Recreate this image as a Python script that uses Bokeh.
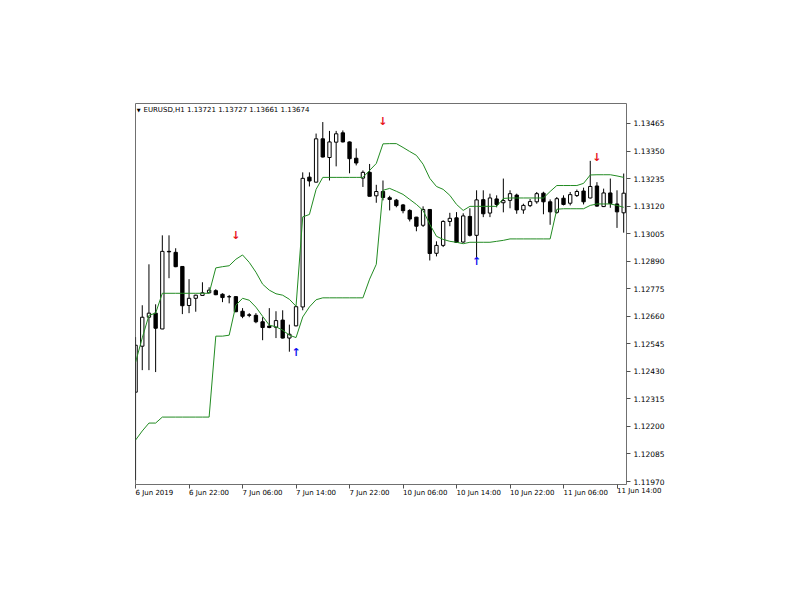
from bokeh.plotting import figure
from bokeh.models import ColumnDataSource, Range1d, FixedTicker, PrintfTickFormatter, Label, LinearAxis
from bokeh.core.properties import value
from bokeh.embed import file_html
from bokeh.resources import INLINE

# ---------------- data ----------------
title_text = "EURUSD,H1  1.13721 1.13727 1.13661 1.13674"

x_tick_bars = [0, 8, 16, 24, 32, 40, 48, 56, 64, 72]
x_tick_labels = ["6 Jun 2019", "6 Jun 22:00", "7 Jun 06:00", "7 Jun 14:00", "7 Jun 22:00",
                 "10 Jun 06:00", "10 Jun 14:00", "10 Jun 22:00", "11 Jun 06:00", "11 Jun 14:00"]
y_ticks = [1.11970, 1.12085, 1.12200, 1.12315, 1.12430, 1.12545, 1.12660,
           1.12775, 1.12890, 1.13005, 1.13120, 1.13235, 1.13350, 1.13465]

opens = [1.12343, 1.12535, 1.12656, 1.12673, 1.12607, 1.12931, 1.12927, 1.12868, 1.12705, 1.12735,
         1.12747, 1.12758, 1.12767, 1.12752, 1.12742, 1.12742, 1.12681, 1.12666, 1.12664, 1.12637,
         1.12619, 1.12614, 1.12644, 1.12569, 1.12620, 1.12699, 1.13241, 1.13220, 1.13401, 1.13323,
         1.13387, 1.13426, 1.13388, 1.13320, 1.13237, 1.13261, 1.13163, 1.13181, 1.13155, 1.13145,
         1.13125, 1.13102, 1.13074, 1.13040, 1.13106, 1.12923, 1.12956, 1.13056, 1.13071, 1.12970,
         1.13077, 1.12998, 1.13147, 1.13091, 1.13150, 1.13134, 1.13144, 1.13166, 1.13104, 1.13122,
         1.13138, 1.13174, 1.13138, 1.13094, 1.13153, 1.13132, 1.13164, 1.13183, 1.13154, 1.13204,
         1.13118, 1.13175, 1.13129, 1.13092]
highs = [1.12573, 1.12706, 1.12877, 1.12710, 1.12998, 1.12998, 1.12944, 1.12869, 1.12815, 1.12750,
         1.12802, 1.12781, 1.12773, 1.12756, 1.12749, 1.12744, 1.12694, 1.12673, 1.12673, 1.12656,
         1.12694, 1.12681, 1.12685, 1.12625, 1.12702, 1.13261, 1.13261, 1.13423, 1.13471, 1.13434,
         1.13434, 1.13436, 1.13390, 1.13361, 1.13269, 1.13296, 1.13209, 1.13227, 1.13163, 1.13150,
         1.13129, 1.13107, 1.13075, 1.13119, 1.13107, 1.12973, 1.13061, 1.13092, 1.13095, 1.13090,
         1.13111, 1.13186, 1.13186, 1.13172, 1.13165, 1.13235, 1.13186, 1.13172, 1.13130, 1.13150,
         1.13179, 1.13180, 1.13148, 1.13158, 1.13165, 1.13179, 1.13189, 1.13197, 1.13309, 1.13220,
         1.13193, 1.13235, 1.13186, 1.13256]
lows = [1.11976, 1.12435, 1.12435, 1.12427, 1.12606, 1.12819, 1.12865, 1.12669, 1.12673, 1.12679,
        1.12746, 1.12756, 1.12748, 1.12719, 1.12714, 1.12677, 1.12652, 1.12656, 1.12631, 1.12560,
        1.12610, 1.12569, 1.12567, 1.12512, 1.12618, 1.12685, 1.13202, 1.13219, 1.13323, 1.13227,
        1.13286, 1.13386, 1.13257, 1.13290, 1.13200, 1.13161, 1.13134, 1.13144, 1.13102, 1.13115,
        1.13090, 1.13056, 1.13015, 1.13033, 1.12893, 1.12910, 1.12949, 1.13036, 1.12967, 1.12967,
        1.12993, 1.12902, 1.13074, 1.13074, 1.13115, 1.13094, 1.13111, 1.13088, 1.13088, 1.13116,
        1.13130, 1.13086, 1.13042, 1.13088, 1.13123, 1.13123, 1.13158, 1.13127, 1.13152, 1.13117,
        1.13116, 1.13113, 1.13029, 1.13009]
closes = [1.12539, 1.12656, 1.12673, 1.12610, 1.12931, 1.12929, 1.12867, 1.12704, 1.12735, 1.12748,
          1.12758, 1.12769, 1.12750, 1.12738, 1.12741, 1.12679, 1.12660, 1.12664, 1.12637, 1.12613,
          1.12613, 1.12642, 1.12569, 1.12585, 1.12700, 1.13236, 1.13225, 1.13401, 1.13325, 1.13388,
          1.13422, 1.13388, 1.13318, 1.13300, 1.13261, 1.13161, 1.13181, 1.13156, 1.13148, 1.13122,
          1.13101, 1.13066, 1.13036, 1.13106, 1.12922, 1.12956, 1.13056, 1.13069, 1.12968, 1.13079,
          1.12998, 1.13146, 1.13088, 1.13154, 1.13127, 1.13143, 1.13172, 1.13104, 1.13123, 1.13139,
          1.13172, 1.13138, 1.13096, 1.13151, 1.13127, 1.13168, 1.13181, 1.13138, 1.13202, 1.13120,
          1.13175, 1.13131, 1.13096, 1.13174]

upper_band = [1.12468, 1.12570, 1.12664, 1.12673, 1.12756, 1.12756, 1.12756, 1.12756, 1.12756, 1.12756,
              1.12756, 1.12756, 1.12862, 1.12867, 1.12871, 1.12898, 1.12916, 1.12885, 1.12844, 1.12794,
              1.12769, 1.12754, 1.12748, 1.12731, 1.12702, 1.13075, 1.13085, 1.13190, 1.13240, 1.13240,
              1.13240, 1.13240, 1.13240, 1.13240, 1.13240, 1.13269, 1.13298, 1.13380, 1.13381, 1.13381,
              1.13365, 1.13348, 1.13332, 1.13295, 1.13236, 1.13202, 1.13190, 1.13165, 1.13127, 1.13102,
              1.13119, 1.13119, 1.13119, 1.13119, 1.13119, 1.13152, 1.13154, 1.13154, 1.13154, 1.13154,
              1.13154, 1.13154, 1.13181, 1.13206, 1.13206, 1.13206, 1.13206, 1.13215, 1.13250, 1.13251,
              1.13251, 1.13251, 1.13246, 1.13240]
lower_band = [1.12143, 1.12181, 1.12214, 1.12214, 1.12239, 1.12239, 1.12239, 1.12239, 1.12239, 1.12239,
              1.12239, 1.12239, 1.12577, 1.12577, 1.12581, 1.12706, 1.12735, 1.12727, 1.12698, 1.12660,
              1.12623, 1.12616, 1.12602, 1.12581, 1.12571, 1.12657, 1.12699, 1.12729, 1.12737, 1.12737,
              1.12737, 1.12737, 1.12737, 1.12737, 1.12737, 1.12815, 1.12877, 1.13186, 1.13194, 1.13182,
              1.13169, 1.13148, 1.13127, 1.13102, 1.13044, 1.12994, 1.12981, 1.12973, 1.12969, 1.12963,
              1.12969, 1.12969, 1.12969, 1.12969, 1.12973, 1.12977, 1.12983, 1.12983, 1.12983, 1.12983,
              1.12983, 1.12983, 1.12983, 1.13107, 1.13109, 1.13109, 1.13109, 1.13109, 1.13123, 1.13129,
              1.13129, 1.13129, 1.13123, 1.13115]

sell_bars = [15, 37, 69]
sell_prices = [1.12998, 1.13473, 1.13321]
buy_bars = [24, 51]
buy_prices = [1.12509, 1.12890]

# ---------------- figure ----------------
FONT = "DejaVu Sans"
GREEN = "#228b22"
X_START, X_END = -0.01, 73.42
Y_START, Y_END = 1.119575, 1.135485
FRAME_W = 491
LABEL_PX = 7
LABEL_Y = 1.11929   # price level of the time labels' mid line (just under the frame)

bars = list(range(len(opens)))
body_top = [max(o, c) for o, c in zip(opens, closes)]
body_bottom = [min(o, c) for o, c in zip(opens, closes)]
fills = ["white" if c >= o else "black" for o, c in zip(opens, closes)]
src = ColumnDataSource(dict(x=bars, h=highs, l=lows, top=body_top, bottom=body_bottom, fill=fills))

p = figure(width=784, height=584, x_range=Range1d(X_START, X_END), y_range=Range1d(Y_START, Y_END),
           y_axis_location="right", toolbar_location=None, output_backend="svg",
           min_border_left=135, min_border_right=158, min_border_top=103, min_border_bottom=100)
p.background_fill_color = "white"
p.border_fill_color = "white"
p.outline_line_color = "#707070"
p.outline_line_width = 1
p.xgrid.visible = False
p.ygrid.visible = False

# x axis 1: tick marks only
p.xaxis.ticker = FixedTicker(ticks=x_tick_bars)
p.xaxis.major_label_overrides = {b: "" for b in x_tick_bars}
p.xaxis.major_label_text_font_size = "0px"
p.xaxis.major_label_standoff = 0
p.xaxis.axis_line_color = None
p.xaxis.major_tick_line_color = "#505050"
p.xaxis.major_tick_out = 4
p.xaxis.major_tick_in = 0
p.xaxis.minor_tick_line_color = None

# x axis 2: labels only, each label starting at its tick (MT4 style, left aligned)
em = {" ": 0.318, ":": 0.337, "J": 0.295, "u": 0.634, "n": 0.634}
px_per_bar = FRAME_W / (X_END - X_START)
label_pos = [round(b + sum(em.get(ch, 0.636) for ch in t) * LABEL_PX / 2 / px_per_bar, 3)
             for b, t in zip(x_tick_bars, x_tick_labels)]
inside = [(pos, t) for pos, t in zip(label_pos, x_tick_labels) if pos <= X_END]
overhang = [(b, t) for b, pos, t in zip(x_tick_bars, label_pos, x_tick_labels) if pos > X_END]

label_axis = LinearAxis(ticker=FixedTicker(ticks=[pos for pos, _ in inside]),
                        major_label_overrides={pos: t for pos, t in inside})
label_axis.axis_line_color = None
label_axis.major_tick_line_color = None
label_axis.minor_tick_line_color = None
label_axis.major_tick_out = 0
label_axis.major_tick_in = 0
label_axis.major_label_standoff = 0
label_axis.major_label_text_font = FONT
label_axis.major_label_text_font_size = f"{LABEL_PX}px"
label_axis.major_label_text_color = "black"
p.add_layout(label_axis, "below")

# label(s) whose text runs past the right edge of the frame (not clipped in the side panel)
for b, t in overhang:
    p.add_layout(Label(x=b, y=LABEL_Y, text=t, text_align="left", text_baseline="middle",
                       text_font=FONT, text_font_size=f"{LABEL_PX}px", text_color="black"), "below")

# y axis (right)
p.yaxis.ticker = FixedTicker(ticks=y_ticks)
p.yaxis.formatter = PrintfTickFormatter(format="%.5f")
p.yaxis.axis_line_color = None
p.yaxis.major_tick_line_color = "#505050"
p.yaxis.major_tick_out = 4
p.yaxis.major_tick_in = 0
p.yaxis.minor_tick_line_color = None
p.yaxis.major_label_standoff = 3
p.yaxis.major_label_text_font = FONT
p.yaxis.major_label_text_font_size = "7.5px"
p.yaxis.major_label_text_color = "black"

# candles
p.segment(x0="x", y0="l", x1="x", y1="h", source=src, line_color="black", line_width=1)
p.vbar(x="x", width=0.5, top="top", bottom="bottom", source=src,
       fill_color="fill", line_color="black", line_width=1)

# channel lines
p.line(bars, upper_band, line_color=GREEN, line_width=1)
p.line(bars, lower_band, line_color=GREEN, line_width=1)

# signal arrows
sell_src = ColumnDataSource(dict(x=sell_bars, y=sell_prices, t=["\u2193"] * len(sell_bars)))
buy_src = ColumnDataSource(dict(x=buy_bars, y=buy_prices, t=["\u2191"] * len(buy_bars)))
p.text(x="x", y="y", text="t", source=sell_src, text_color="#e8141c", text_font=value(FONT),
       text_font_style="bold", text_font_size="11px", text_align="center", text_baseline="middle")
p.text(x="x", y="y", text="t", source=buy_src, text_color="#1010ee", text_font=value(FONT),
       text_font_style="bold", text_font_size="11px", text_align="center", text_baseline="middle")

# chart header
p.add_layout(Label(x=0.45, y=1.13523, text="\u25bc", text_align="center", text_baseline="middle",
                   text_font=FONT, text_font_size="5px", text_color="black"))
p.add_layout(Label(x=1.18, y=1.13523, text=title_text, text_align="left", text_baseline="middle",
                   text_font=FONT, text_font_size="7px", text_color="black"))

open("out.html", "w").write(file_html(p, INLINE))
